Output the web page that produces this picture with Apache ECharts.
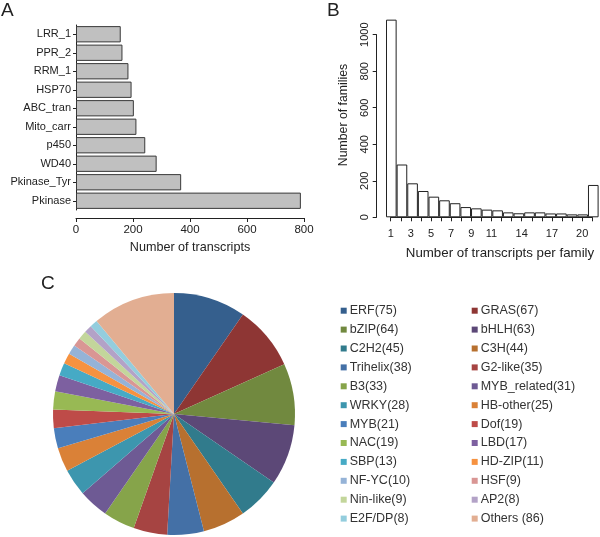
<!DOCTYPE html>
<html><head><meta charset="utf-8">
<script src="https://cdn.jsdelivr.net/npm/echarts@6/dist/echarts.min.js"></script>
<style>html,body{margin:0;padding:0;background:#fff}#c{width:600px;height:537px}</style>
</head><body><div id="c"></div>
<script>
// Panel A
const domainNames = ['LRR_1','PPR_2','RRM_1','HSP70','ABC_tran','Mito_carr','p450','WD40','Pkinase_Tyr','Pkinase'];
const domainCounts = [157, 163, 184, 195, 203, 212, 243, 283, 369, 789];
// Panel B
const histBins = ['1','2','3','4','5','6','7','8','9','10','11','12','13','14','15','16','17','18','19','20'];
const histCounts = [1082, 289, 186, 144, 113, 93, 77, 56, 49, 42, 38, 27, 22, 27, 27, 21, 21, 16, 16, 177];
const histTickLabels = [1, 3, 5, 7, 9, 11, 14, 17, 20];
// Panel C
const tfLabels = ['ERF(75)','GRAS(67)','bZIP(64)','bHLH(63)','C2H2(45)','C3H(44)','Trihelix(38)','G2-like(35)',
  'B3(33)','MYB_related(31)','WRKY(28)','HB-other(25)','MYB(21)','Dof(19)','NAC(19)','LBD(17)',
  'SBP(13)','HD-ZIP(11)','NF-YC(10)','HSF(9)','Nin-like(9)','AP2(8)','E2F/DP(8)','Others (86)'];
const tfCounts = [75,67,64,63,45,44,38,35,33,31,28,25,21,19,19,17,13,11,10,9,9,8,8,86];
const tfColors = ['#355F8D','#8E3634','#71893F','#5C4877','#317B8C','#B7702F','#4470A6','#A64442',
  '#86A44A','#6E5A94','#3D96AE','#DA8137','#4A7EBB','#BE4B48','#98B954','#7D60A0',
  '#46AAC5','#F69240','#95B3D7','#D99694','#C3D69B','#B3A2C7','#93CDDD','#E2AE92'];

const FONT = "'Liberation Sans', Arial, sans-serif";
const INK = '#222';
const chart = echarts.init(document.getElementById('c'), null, {renderer: 'canvas'});

const leftCol = tfLabels.filter((_, i) => i % 2 === 0);
const rightCol = tfLabels.filter((_, i) => i % 2 === 1);
const legendBase = {
  orient: 'vertical', top: 303.7, padding: 0, itemWidth: 6, itemHeight: 6, icon: 'rect',
  itemGap: 4.9, selectedMode: false,
  textStyle: {fontFamily: FONT, fontSize: 12.5, color: '#333', lineHeight: 14, padding: [0, 0, 0, -2]}
};
const plain = v => String(v);

chart.setOption({
  animation: false,
  textStyle: {fontFamily: FONT},
  title: [
    {text: 'A', left: 1, top: 1, padding: 0, textStyle: {fontFamily: FONT, fontSize: 19, fontWeight: 'normal', color: INK}},
    {text: 'B', left: 327, top: 1, padding: 0, textStyle: {fontFamily: FONT, fontSize: 19, fontWeight: 'normal', color: INK}},
    {text: 'C', left: 41, top: 274, padding: 0, textStyle: {fontFamily: FONT, fontSize: 19, fontWeight: 'normal', color: INK}}
  ],
  legend: [
    Object.assign({}, legendBase, {left: 340.7, data: leftCol}),
    Object.assign({}, legendBase, {left: 471.7, data: rightCol})
  ],
  grid: [
    {left: 76, right: 296, top: 25, bottom: 327},          // A
    {left: 386, right: 1.4, top: 12.7, bottom: 319.7},     // B bars
    {left: 390.7, right: 7.7, top: 34.7, bottom: 319.7}    // B axes
  ],
  xAxis: [
    {gridIndex: 0, type: 'value', min: 0, max: 800, interval: 200, offset: 8,
     name: 'Number of transcripts', nameLocation: 'middle', nameGap: 23,
     nameTextStyle: {fontSize: 12.6, color: INK, verticalAlign: 'top'},
     axisLine: {show: true, lineStyle: {color: INK, width: 1}},
     axisTick: {show: true, length: 4, lineStyle: {color: INK}},
     axisLabel: {fontSize: 11.5, color: INK, margin: 6, formatter: plain},
     splitLine: {show: false}},
    {gridIndex: 1, type: 'category', data: histBins, boundaryGap: true,
     axisLine: {show: false}, axisTick: {show: false}, axisLabel: {show: false}},
    {gridIndex: 2, type: 'value', min: 1, max: 21, interval: 1, offset: 5.4,
     name: 'Number of transcripts per family', nameLocation: 'middle', nameGap: 24,
     nameTextStyle: {fontSize: 13.3, color: INK, verticalAlign: 'top', padding: [0, 0, 0, 17]},
     axisLine: {show: true, lineStyle: {color: INK, width: 1}},
     axisTick: {show: true, length: 4, lineStyle: {color: INK}},
     axisLabel: {fontSize: 11, color: INK, margin: 6,
       formatter: v => histTickLabels.indexOf(Math.round(v)) >= 0 ? String(Math.round(v)) : ''},
     splitLine: {show: false}}
  ],
  yAxis: [
    {gridIndex: 0, type: 'category', data: domainNames, inverse: true,
     axisLine: {show: true, lineStyle: {color: INK, width: 1}},
     axisTick: {show: true, alignWithLabel: true, length: 3, lineStyle: {color: INK}},
     axisLabel: {fontSize: 11, color: INK, margin: 5}},
    {gridIndex: 1, type: 'value', min: 0, max: 1120,
     name: 'Number of families', nameLocation: 'middle', nameGap: 36,
     nameTextStyle: {fontSize: 12.3, color: INK},
     axisLine: {show: false}, axisTick: {show: false}, axisLabel: {show: false}, splitLine: {show: false}},
    {gridIndex: 2, type: 'value', min: 0, max: 1000, interval: 200, offset: 14,
     axisLine: {show: true, lineStyle: {color: INK, width: 1}},
     axisTick: {show: true, length: 4, lineStyle: {color: INK}},
     axisLabel: {fontSize: 11, color: INK, margin: 6, rotate: 90, formatter: plain},
     splitLine: {show: false}}
  ],
  series: [
    {type: 'bar', xAxisIndex: 0, yAxisIndex: 0, data: domainCounts, barCategoryGap: '12%',
     itemStyle: {color: '#C0C0C0', borderColor: '#3a3a3a', borderWidth: 1}, silent: true},
    {type: 'bar', xAxisIndex: 1, yAxisIndex: 1, data: histCounts, barCategoryGap: 0,
     itemStyle: {color: '#fff', borderColor: '#222', borderWidth: 1}, silent: true},
    {type: 'pie', center: [174, 414], radius: 121, startAngle: 90, clockwise: true,
     label: {show: false}, labelLine: {show: false}, silent: true,
     color: tfColors,
     itemStyle: {borderWidth: 0},
     data: tfLabels.map((n, i) => ({name: n, value: tfCounts[i]}))}
  ]
});
</script></body></html>
